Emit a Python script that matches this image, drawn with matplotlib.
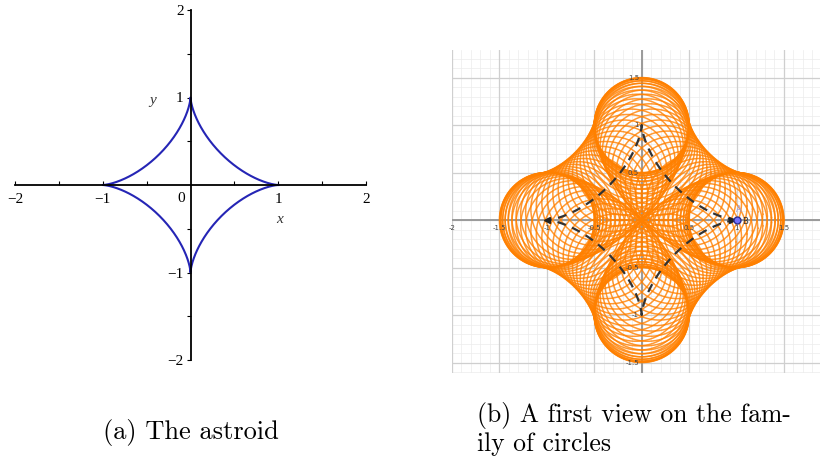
import numpy as np
import matplotlib
matplotlib.use("Agg")
import matplotlib.pyplot as plt

# ---- data ----
astroid_t = np.linspace(0, 2 * np.pi, 721)           # parameter of the astroid
circle_count = 124                                   # number of circles in the family
circle_radius = 0.5                                  # radius of each circle
a_xticks = [-2, -1, 1, 2]
a_xticklabels = ["\u22122", "\u22121", "1", "2"]
a_yticks = [-2, -1, 1, 2]
a_yticklabels = ["\u22122", "\u22121", "1", "2"]
a_minor = [-1.5, -0.5, 0.5, 1.5]
b_xlabels_pos = [-2, -1.5, -1, -0.5, 0.5, 1, 1.5]
b_xlabels = ["-2", "-1.5", "-1", "-0.5", "0.5", "1", "1.5"]
b_ylabels_pos = [1.5, 1, 0.5, -0.5, -1, -1.5]
b_ylabels = ["1.5", "1", "0.5", "-0.5", "-1", "-1.5"]
caption_a = "(a) The astroid"
caption_b = "(b) A first view on the fam-\nily of circles"

fig = plt.figure(figsize=(8.21, 4.63), dpi=100)
W, H = 821, 463

def px_axes(x0, y0, x1, y1):
    return fig.add_axes([x0 / W, 1 - y1 / H, (x1 - x0) / W, (y1 - y0) / H])

# ---------------- panel (a) ----------------
ax = px_axes(15, 10, 366, 360)
ax.set_xlim(-2, 2)
ax.set_ylim(-2, 2)
ax.plot(np.cos(astroid_t) ** 3, np.sin(astroid_t) ** 3, color="#2525b5", lw=1.5)
for s in ["top", "right"]:
    ax.spines[s].set_visible(False)
ax.spines["left"].set_position(("data", 0))
ax.spines["bottom"].set_position(("data", 0))
for s in ["left", "bottom"]:
    ax.spines[s].set_linewidth(1.3)
ax.set_xticks(a_xticks)
ax.set_xticklabels(a_xticklabels)
ax.set_yticks(a_yticks)
ax.set_yticklabels(a_yticklabels)
ax.set_xticks(a_minor, minor=True)
ax.set_yticks(a_minor, minor=True)
ax.tick_params(axis="x", which="both", direction="in", length=3, width=0.8, pad=6)
ax.tick_params(axis="y", which="both", direction="out", length=3, width=0.8, pad=2)
for lab in ax.get_xticklabels() + ax.get_yticklabels():
    lab.set_fontfamily("Liberation Serif")
    lab.set_fontsize(11)
ax.text(-0.06, -0.08, "0", ha="right", va="top", fontsize=11, family="Liberation Serif")
ax.text(1.01, -0.32, "x", ha="center", va="top", fontsize=11, family="Liberation Serif",
        style="italic", color="#333333")
ax.text(-0.43, 0.97, "y", ha="center", va="center", fontsize=11, family="Liberation Serif",
        style="italic", color="#333333")
ax.patch.set_alpha(0)

# ---------------- panel (b) ----------------
bx = px_axes(452, 50, 820, 373)
bx.set_xlim(-2, 1.88)
bx.set_ylim(-1.61, 1.79)
bx.set_xticks([])
bx.set_yticks([])
for s in bx.spines.values():
    s.set_visible(False)
minor = np.arange(-2.0, 2.01, 0.1)
major = np.arange(-2.0, 2.01, 0.5)
for v in minor:
    bx.axvline(v, color="#ececec", lw=0.5, zorder=0)
    bx.axhline(v, color="#ececec", lw=0.5, zorder=0)
for v in major:
    bx.axvline(v, color="#cfcfcf", lw=0.9, zorder=0)
    bx.axhline(v, color="#cfcfcf", lw=0.9, zorder=0)
bx.axvline(0, color="#9a9a9a", lw=1.4, zorder=0.5)
bx.axhline(0, color="#9a9a9a", lw=1.4, zorder=0.5)

phi = np.linspace(0, 2 * np.pi, 181)
tc = np.linspace(0, 2 * np.pi, circle_count, endpoint=False)
for t in tc:
    cx, cy = np.cos(t) ** 3, np.sin(t) ** 3
    bx.plot(cx + circle_radius * np.cos(phi), cy + circle_radius * np.sin(phi),
            color="#ff8000", lw=1.1, alpha=0.8, zorder=2)

bx.plot(np.cos(astroid_t) ** 3, np.sin(astroid_t) ** 3, color="#333333", lw=1.6,
        dashes=(4, 3), zorder=3)

for p, l in zip(b_xlabels_pos, b_xlabels):
    bx.text(p, -0.05, l, ha="center", va="top", fontsize=5, color="#444444", zorder=4)
for p, l in zip(b_ylabels_pos, b_ylabels):
    bx.text(-0.03, p, l, ha="right", va="center", fontsize=5, color="#444444", zorder=4)

bx.plot([-1], [0], marker="<", color="#222222", ms=4, zorder=5)
bx.plot([0.95], [0], marker=">", color="#222222", ms=4, zorder=5)
bx.plot([1], [0], marker="o", mfc="#7070ff", mec="#303090", ms=5, zorder=6)
bx.text(1.06, -0.01, "B", fontsize=6, color="#333333", va="center", zorder=6)
bx.text(0.99, 0.08, "A", fontsize=6, color="#a0a0e0", zorder=6)

# ---------------- captions ----------------
fig.text(191 / W, 1 - 432 / H, caption_a, ha="center", va="center",
         fontsize=19, family="cmr10")
fig.text(477 / W, 1 - 429 / H, caption_b, ha="left", va="center",
         fontsize=18.5, family="cmr10", linespacing=1.2)

fig.savefig("out.png", dpi=100)
